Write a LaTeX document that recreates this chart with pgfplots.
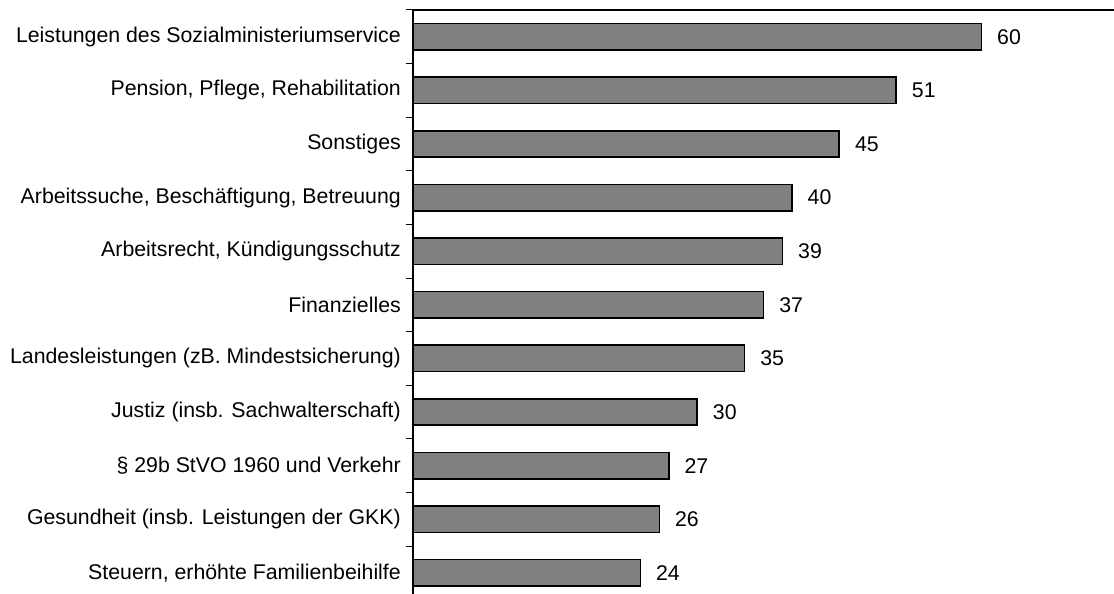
\documentclass[border=0pt]{standalone}
\usepackage{pgfplots}
\pgfplotsset{compat=1.18}
\usepackage{fontspec}
\setmainfont{Liberation Sans}
\begin{document}
\fontsize{21.3}{25}\selectfont
\begin{tikzpicture}
\useasboundingbox (0pt,0pt) rectangle (1114pt,594pt);
\begin{axis}[
  at={(413pt,-5.6pt)}, anchor=south west,
  scale only axis, width=701pt, height=589.6pt,
  xbar, bar width=26.5pt,
  xmin=0, xmax=74,
  ymin=0.5, ymax=11.5, y dir=reverse,
  axis x line*=top, axis y line*=left,
  axis line style={-, line width=1.6pt},
  xtick=\empty,
  ytick={1,...,11},
  yticklabels={Leistungen des Sozialministeriumservice,{Pension, Pflege, Rehabilitation},Sonstiges,{Arbeitssuche, Beschäftigung, Betreuung},{Arbeitsrecht, Kündigungsschutz},Finanzielles,Landesleistungen (zB. Mindestsicherung),Justiz (insb. Sachwalterschaft),\S{} 29b StVO 1960 und Verkehr,Gesundheit (insb. Leistungen der GKK),{Steuern, erhöhte Familienbeihilfe}},
  major tick length=0pt,
  minor ytick={0.5,1.5,...,11.5},
  minor tick length=7pt,
  tick align=outside,
  minor tick style={line width=1pt, black},
  yticklabel style={font=\fontsize{21.3}{25}\selectfont, inner sep=0pt, xshift=-12pt},
  /pgf/number format/assume math mode=true,
  nodes near coords={\pgfmathprintnumber[assume math mode=true]{\pgfplotspointmeta}},
  nodes near coords style={font=\fontsize{21.3}{25}\selectfont, anchor=west, inner sep=0pt, xshift=15pt, black},
  clip=false,
]
\addplot[fill=black!50, draw=black, line width=1.6pt] coordinates {
(60,1) (51,2) (45,3) (40,4) (39,5) (37,6) (35,7) (30,8) (27,9) (26,10) (24,11)
};
\end{axis}
\end{tikzpicture}
\end{document}
